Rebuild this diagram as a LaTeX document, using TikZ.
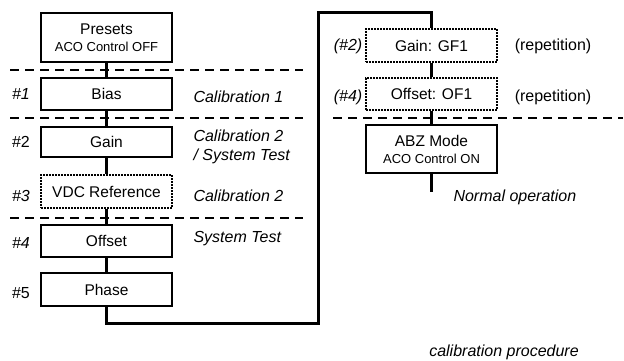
\documentclass[tikz,border=0pt]{standalone}
\usepackage{fontspec}
\setmainfont{Liberation Sans}
\begin{document}
\begin{tikzpicture}[x=1pt,y=-1pt,
  box/.style={draw=black,line width=1.6pt,fill=white,minimum width=131pt,inner sep=0pt,align=center,font=\fontsize{15.5}{20}\selectfont},
  dotbox/.style={box,dash pattern=on 1.6pt off 1.4pt},
  conn/.style={line width=3pt},
  sep/.style={line width=1.8pt,dash pattern=on 9pt off 6pt},
  lab/.style={font=\fontsize{16}{19}\selectfont\itshape},
  labu/.style={font=\fontsize{16}{19}\selectfont},
  sub/.style={}]
\useasboundingbox (0,0) rectangle (624,361);
% separators
\draw[sep] (10,70) -- (303,70);
\draw[sep] (10,118) -- (303,118);
\draw[sep] (10,218) -- (303,218);
\draw[sep] (333,118) -- (623,118);
% coordinates
\coordinate (c1) at (318,323);
\coordinate (c2) at (318,13);
\coordinate (endp) at (431.5,192);
% nodes
\node[box,minimum height=49pt] (presets) at (106.5,37.5) {Presets\\[-3pt]{\fontsize{13}{15}\selectfont ACO Control OFF}};
\node[box,minimum height=32pt] (bias) at (106.5,94) {Bias};
\node[box,minimum height=30pt] (gain) at (106.5,142) {Gain};
\node[dotbox,minimum height=33pt] (vdc) at (106.5,191.5) {VDC Reference};
\node[box,minimum height=32pt] (offset) at (106.5,241) {Offset};
\node[box,minimum height=33pt] (phase) at (106.5,289.5) {Phase};
\node[dotbox,minimum height=33pt] (gf1) at (431.5,45.5) {Gain: GF1};
\node[dotbox,minimum height=32pt] (of1) at (431.5,94) {Offset: OF1};
\node[box,minimum height=48pt] (abz) at (431.5,149) {ABZ Mode\\[-3pt]{\fontsize{13}{15}\selectfont ACO Control ON}};
% connectors
\draw[conn] (presets) -- (bias);
\draw[conn] (bias) -- (gain);
\draw[conn] (gain) -- (vdc);
\draw[conn] (vdc) -- (offset);
\draw[conn] (offset) -- (phase);
\draw[conn] (phase.south) |- (c1) -- (c2) -| (gf1.north);
\draw[conn] (gf1) -- (of1);
\draw[conn] (of1) -- (abz);
\draw[conn] (abz.south) -- (endp);
% step labels
\node[lab] (n1) at (21,94) {\#1};
\node[labu] (n2) at (21,142) {\#2};
\node[lab] (n3) at (21,196) {\#3};
\node[lab] (n4) at (21,243) {\#4};
\node[labu] (n5) at (21,293) {\#5};
% phase labels
\node[lab,anchor=west] (t1) at (190,97) {Calibration 1};
\node[lab,anchor=west,align=left] (t2) at (190,147) {Calibration 2\\/ System Test};
\node[lab,anchor=west] (t3) at (190,196) {Calibration 2};
\node[lab,anchor=west] (t4) at (190,239) {System Test};
\node[lab] (r2) at (348,46) {(\#2)};
\node[lab] (r4) at (348,97) {(\#4)};
\node[labu] (p2) at (553,46) {(repetition)};
\node[labu] (p4) at (553,97) {(repetition)};
\node[lab,anchor=west] (norm) at (450,197) {Normal operation};
\node[lab] (cal) at (504,352) {calibration procedure};
\end{tikzpicture}
\end{document}
